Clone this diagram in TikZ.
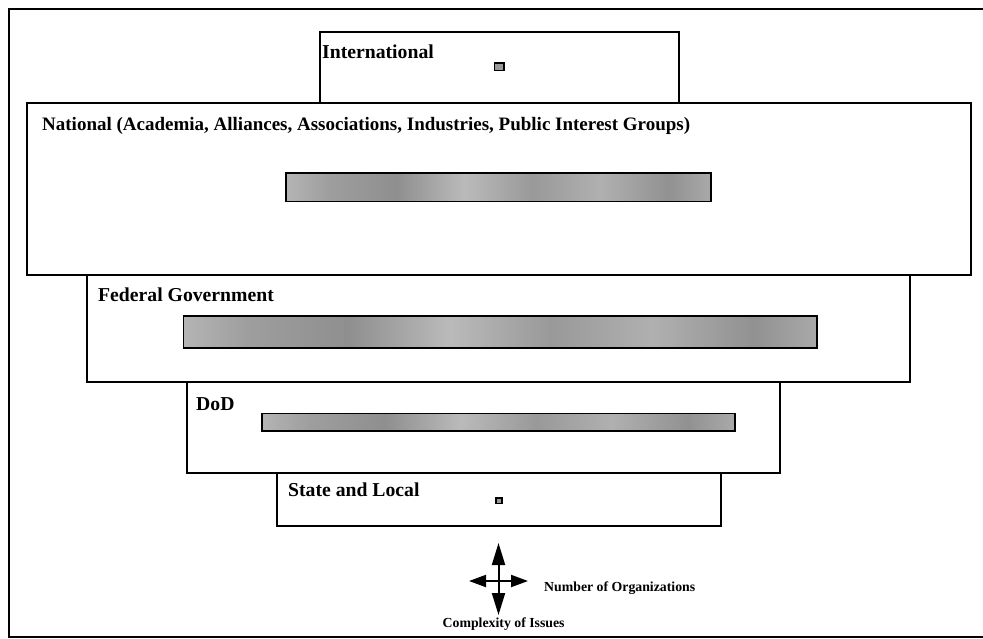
\documentclass[tikz,border=0pt]{standalone}
\usepackage{fontspec}
\setmainfont{Liberation Serif}
\usetikzlibrary{arrows.meta}

% mottled halftone fill for the bars
\pgfdeclarehorizontalshading{mottle}{100bp}{%
  color(0bp)=(black!40);
  color(8bp)=(black!30);
  color(14bp)=(black!42);
  color(22bp)=(black!24);
  color(30bp)=(black!38);
  color(38bp)=(black!44);
  color(46bp)=(black!27);
  color(54bp)=(black!40);
  color(62bp)=(black!31);
  color(70bp)=(black!43);
  color(78bp)=(black!28);
  color(86bp)=(black!39);
  color(94bp)=(black!32);
  color(100bp)=(black!38)}

\tikzset{
  tier/.style={draw=black, line width=1.9pt, fill=white},
  bar/.style={draw=black, line width=1.8pt, shading=mottle},
  dotmark/.style={draw=black, line width=1.5pt, fill=black!40},
  tierlabel/.style={anchor=base west, inner sep=0pt, font=\fontsize{19.7}{22}\selectfont\bfseries},
  axislabel/.style={anchor=base west, inner sep=0pt, font=\fontsize{13.8}{16}\selectfont\bfseries},
  axisarrow/.style={line width=2pt},
}

\begin{document}
\begin{tikzpicture}[x=1pt, y=-1pt]
  \useasboundingbox (0,0) rectangle (983,638);

  % outer frame (its right side runs past the page edge)
  \draw[line width=2pt] (990,9) -- (8.5,9) -- (8.5,637) -- (990,637);

  % tiers, top to bottom
  \draw[tier] (320,32) rectangle (679,103);
  \draw[tier] (27,103) rectangle (971,275);
  \draw[tier] (87,275) rectangle (910,382);
  \draw[tier] (187,382) rectangle (780,473);
  \draw[tier] (277,473) rectangle (721,526);

  % bars showing the spread of each tier
  \draw[dotmark] (494.5,63) rectangle (504,70.5);
  \draw[bar] (286,173) rectangle (711,201.5);
  \draw[bar] (183.5,316) rectangle (817,348);
  \draw[bar] (262,413.5) rectangle (735,431);
  \draw[dotmark] (496,498) rectangle (502,503.5);

  % tier labels
  \node[tierlabel] (intl) at (322,58) {International};
  \node[tierlabel, font=\fontsize{19}{22}\selectfont\bfseries] (natl) at (42,130) {National (Academia, Alliances, Associations, Industries, Public Interest Groups)};
  \node[tierlabel] (fed)  at (98,301) {Federal Government};
  \node[tierlabel] (dod)  at (196,410) {DoD};
  \node[tierlabel] (stl)  at (288,496.5) {State and Local};

  % direction key
  \coordinate (up)    at (498.5,543);
  \coordinate (down)  at (498.5,615);
  \coordinate (left)  at (469,581);
  \coordinate (right) at (528,581);
  \draw[axisarrow, {Triangle[length=22pt, width=13pt]}-{Triangle[length=22pt, width=13pt]}] (down) -- (up);
  \draw[axisarrow, {Triangle[length=17pt, width=12pt]}-{Triangle[length=17pt, width=12pt]}] (left) -- (right);

  \node[axislabel] (orgs)  at (544,591.5) {Number of Organizations};
  \node[axislabel] (issues) at (442.5,627) {Complexity of Issues};
\end{tikzpicture}
\end{document}
